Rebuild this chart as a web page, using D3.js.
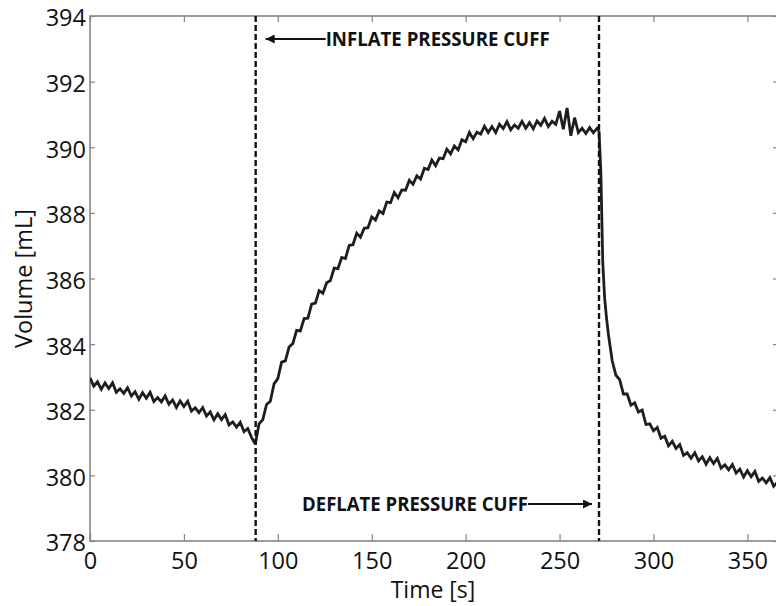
<!DOCTYPE html>
<html><head><meta charset="utf-8">
<script src="https://cdn.jsdelivr.net/npm/d3@7"></script>
<style>body{margin:0;background:#fff}svg{display:block}</style>
</head><body>
<svg id="chart" width="776" height="606"></svg>
<script>
// ---- data ----
const xTicks = [0, 50, 100, 150, 200, 250, 300, 350];
const yTicks = [378, 380, 382, 384, 386, 388, 390, 392, 394];
const xDomain = [0, 366.3];
const yDomain = [378, 394];

// [time s, volume mL]
const baselineTrace = [
 [0,382.97],[2,382.72],[4,382.85],[6,382.62],[8,382.82],[10,382.65],[12,382.82],[14,382.53],[16,382.64],[18,382.50],
 [20,382.67],[22,382.42],[24,382.55],[26,382.32],[28,382.52],[30,382.35],[32,382.53],[34,382.25],[36,382.37],[38,382.24],
 [40,382.42],[42,382.17],[44,382.30],[46,382.07],[48,382.27],[50,382.10],[52,382.26],[54,381.96],[56,382.06],[58,381.91],
 [60,382.07],[62,381.81],[64,381.93],[66,381.69],[68,381.88],[70,381.70],[72,381.85],[74,381.54],[76,381.63],[78,381.47],
 [80,381.62],[82,381.33],[84,381.43],[86,381.16],[88,380.95]
];
const inflationTrace = [
 [88,380.95],[90,381.57],[92,381.70],[94,382.16],[96,382.26],[98,382.79],[100,382.95],[102,383.45],[104,383.49],[106,383.91],
 [108,384.02],[110,384.42],[112,384.40],[114,384.78],[116,384.79],[118,385.22],[120,385.25],[122,385.63],[124,385.55],[126,385.87],
 [128,385.94],[130,386.32],[132,386.30],[134,386.64],[136,386.61],[138,387.01],[140,387.03],[142,387.38],[144,387.26],[146,387.53],
 [148,387.55],[150,387.88],[152,387.78],[154,388.06],[156,387.98],[158,388.33],[160,388.31],[162,388.62],[164,388.46],[166,388.70],
 [168,388.69],[170,388.99],[172,388.87],[174,389.13],[176,389.03],[178,389.36],[180,389.32],[182,389.61],[184,389.44],[186,389.67],
 [188,389.65],[190,389.94],[192,389.80],[194,390.04],[196,389.92],[198,390.23],[200,390.17],[202,390.45],[204,390.26],[206,390.46],
 [208,390.40],[210,390.64],[212,390.45],[214,390.63],[216,390.45],[218,390.70],[220,390.57],[222,390.78],[224,390.53],[226,390.68],
 [228,390.58],[230,390.79],[232,390.58],[234,390.75],[236,390.56],[238,390.80],[240,390.67],[242,390.88],[244,390.63],[246,390.79],
 [248,390.70],[250,391.10],[252,390.55],[254,391.20],[256,390.35],[258,390.90],[260,390.45],[262,390.58],[264,390.42],[266,390.60],
 [268,390.44],[270,390.58],[271,390.50]
];
const deflationTrace = [
 [271,390.50],[272,389.20],[273,386.50],[274,385.40],[275,384.80],[276,384.30],[278,383.50],[280,383.05],
 [282,382.92],[284,382.48],[286,382.48],[288,382.14],[290,382.21],[292,381.93],[294,381.99],[296,381.55],[298,381.57],[300,381.36],
 [302,381.46],[304,381.13],[306,381.19],[308,380.90],[310,381.04],[312,380.82],[314,380.94],[316,380.61],[318,380.69],[320,380.52],
 [322,380.69],[324,380.44],[326,380.57],[328,380.34],[330,380.54],[332,380.36],[334,380.52],[336,380.22],[338,380.32],[340,380.17],
 [342,380.33],[344,380.07],[346,380.19],[348,379.95],[350,380.14],[352,379.96],[354,380.12],[356,379.82],[358,379.92],[360,379.77],
 [362,379.93],[364,379.67],[366,379.79]
];
const eventTimes = [88.2, 271.0];
const eventLabels = ["INFLATE PRESSURE CUFF", "DEFLATE PRESSURE CUFF"];
const xLabel = "Time [s]";
const yLabel = "Volume [mL]";

// ---- drawing ----
const svg = d3.select("#chart");
const L = 90, R = 778, T = 16, B = 541;
const x = d3.scaleLinear().domain(xDomain).range([L, R]);
const y = d3.scaleLinear().domain(yDomain).range([B, T]);
const axisColor = "#858585";
const font = "'Open Sans', sans-serif";

svg.append("defs").append("clipPath").attr("id","clip")
  .append("rect").attr("x",L).attr("y",T).attr("width",R-L).attr("height",B-T);

// box
svg.append("rect").attr("x",L).attr("y",T).attr("width",R-L).attr("height",B-T)
  .attr("fill","none").attr("stroke",axisColor).attr("stroke-width",1.6);

// axes
const gx = svg.append("g").attr("transform",`translate(0,${B})`)
  .call(d3.axisBottom(x).tickValues(xTicks).tickSize(-7).tickPadding(0).tickFormat(d3.format("d")));
const gxTop = svg.append("g").attr("transform",`translate(0,${T})`)
  .call(d3.axisTop(x).tickValues(xTicks).tickSize(-6).tickFormat(""));
const gy = svg.append("g").attr("transform",`translate(${L},0)`)
  .call(d3.axisLeft(y).tickValues(yTicks).tickSize(-5).tickPadding(0).tickFormat(d3.format("d")));
const gyR = svg.append("g").attr("transform",`translate(${R},0)`)
  .call(d3.axisRight(y).tickValues(yTicks).tickSize(-5).tickFormat(""));
[gx,gxTop,gy,gyR].forEach(g=>{
  g.select(".domain").remove();
  g.selectAll(".tick line").attr("stroke",axisColor).attr("stroke-width",1.2);
});
gx.selectAll(".tick text").attr("y",28).attr("dy",null)
  .attr("font-family",font).attr("font-size",23.5).attr("fill","#111");
gy.selectAll(".tick text").attr("x",-4).attr("dy","0.42em")
  .attr("font-family",font).attr("font-size",23.5).attr("fill","#111");

svg.append("text").attr("x",(L+776)/2).attr("y",598).attr("text-anchor","middle")
  .attr("font-family",font).attr("font-size",23).attr("fill","#111").text(xLabel);
svg.append("text").attr("transform",`translate(32,${(T+B)/2}) rotate(-90)`).attr("text-anchor","middle")
  .attr("font-family",font).attr("font-size",23.5).attr("fill","#111").text(yLabel);

// trace (noisy signal drawn as a thick dark band)
const line = d3.line().x(d=>x(d[0])).y(d=>y(d[1]));
const gTrace = svg.append("g").attr("clip-path","url(#clip)");
[baselineTrace, inflationTrace, deflationTrace].forEach(seg=>{
  gTrace.append("path").datum(seg).attr("d",line)
    .attr("fill","none").attr("stroke","#1e1e1e").attr("stroke-width",2.8)
    .attr("stroke-linejoin","miter").attr("stroke-miterlimit",3);
});

// event lines
eventTimes.forEach(t=>{
  svg.append("line").attr("x1",x(t)).attr("x2",x(t)).attr("y1",T).attr("y2",B)
    .attr("stroke","#111").attr("stroke-width",2.4).attr("stroke-dasharray","6,3");
});

// arrows
const defs = svg.select("defs");
defs.append("marker").attr("id","ah").attr("viewBox","0 0 10 10").attr("refX",10).attr("refY",5)
  .attr("markerWidth",12).attr("markerHeight",9).attr("markerUnits","userSpaceOnUse").attr("orient","auto")
  .append("path").attr("d","M0,0 L10,5 L0,10 Z").attr("fill","#111");

// inflate annotation (arrow points left to the first event line)
const x1 = x(eventTimes[0]);
svg.append("line").attr("x1",x1+70).attr("x2",x1+10).attr("y1",39).attr("y2",39)
  .attr("stroke","#111").attr("stroke-width",2).attr("marker-end","url(#ah)");
svg.append("text").attr("x",x1+70).attr("y",46).attr("font-family",font).attr("font-weight",700)
  .attr("font-size",19).attr("fill","#111").attr("textLength",224).attr("lengthAdjust","spacingAndGlyphs")
  .text(eventLabels[0]);

// deflate annotation (arrow points right to the second event line)
const x2 = x(eventTimes[1]);
svg.append("line").attr("x1",x2-71).attr("x2",x2-7).attr("y1",504).attr("y2",504)
  .attr("stroke","#111").attr("stroke-width",2).attr("marker-end","url(#ah)");
svg.append("text").attr("x",x2-297).attr("y",511).attr("font-family",font).attr("font-weight",700)
  .attr("font-size",19).attr("fill","#111").attr("textLength",226).attr("lengthAdjust","spacingAndGlyphs")
  .text(eventLabels[1]);
</script>
</body></html>
